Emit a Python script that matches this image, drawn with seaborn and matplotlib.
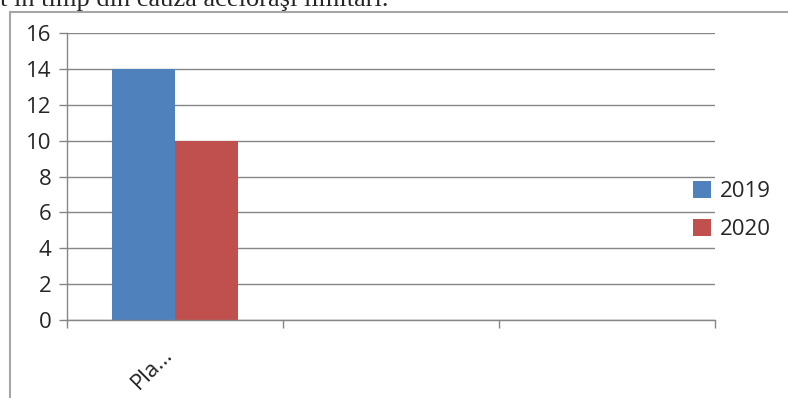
import matplotlib
matplotlib.use("Agg")
import matplotlib.pyplot as plt
import seaborn as sns
import pandas as pd
import numpy as np
from matplotlib.lines import Line2D

categories = ["Pla...", " ", "  "]
years = ["2019", "2020"]
values_2019 = [14, np.nan, np.nan]
values_2020 = [10, np.nan, np.nan]
yticks = [0, 2, 4, 6, 8, 10, 12, 14, 16]
colors = ["#4F81BD", "#C0504D"]
caption = "t în timp din cauza aceloraşi limitări."

rows = []
for c, a, b in zip(categories, values_2019, values_2020):
    rows.append({"cat": c, "year": years[0], "val": a})
    rows.append({"cat": c, "year": years[1], "val": b})
df = pd.DataFrame(rows)

sns.set_theme(style="white")
plt.rcParams["font.family"] = ["Open Sans", "DejaVu Sans"]

fig = plt.figure(figsize=(7.88, 3.98), dpi=100)
ax = fig.add_axes([67/788, 1-320/398, (715-67)/788, (320-33)/398])

sns.barplot(data=df, x="cat", y="val", hue="year", order=categories,
            hue_order=years, palette=colors, width=0.58, ax=ax,
            saturation=1, errorbar=None, legend=True, linewidth=0)

ax.set_xlim(-0.5, len(categories) - 0.5)
ax.set_ylim(0, 16)
ax.set_yticks(yticks)
ax.set_yticklabels([str(t) for t in yticks], fontsize=16)
ax.yaxis.grid(True, color="#868686", linewidth=1)
ax.set_axisbelow(True)
ax.set_xlabel("")
ax.set_ylabel("")

# category boundary ticks
ax.set_xticks([i - 0.5 for i in range(len(categories) + 1)])
ax.set_xticklabels([])
ax.tick_params(axis="x", which="major", bottom=True, length=6, color="#868686", width=1, direction="out")
ax.tick_params(axis="y", left=True, length=6, color="#868686", width=1, direction="out", pad=5)
for i, c in enumerate(categories):
    if c.strip():
        ax.text(i - 0.06, -1.35, c, rotation=45, ha="right", va="top", fontsize=16,
                transform=ax.transData, rotation_mode="anchor")

for s in ["top", "right"]:
    ax.spines[s].set_visible(False)
for s in ["left", "bottom"]:
    ax.spines[s].set_color("#868686")
    ax.spines[s].set_linewidth(1)

leg = ax.legend(loc="center left", bbox_to_anchor=(0.966, 0.382), frameon=False,
                fontsize=16, handlelength=0.8, handleheight=0.8, handletextpad=0.4,
                labelspacing=0.75, borderaxespad=0, borderpad=0)

# chart frame
fig.add_artist(Line2D([10/788, 10/788], [0, 1-12/398], color="#A6A6A6", linewidth=1.5))
fig.add_artist(Line2D([10/788, 1], [1-12/398, 1-12/398], color="#A6A6A6", linewidth=1.5))

fig.text(0.0, 1-6/398, caption, family=["Liberation Serif", "DejaVu Serif"],
         fontsize=19, ha="left", va="baseline")

fig.savefig("out.png", dpi=100)
